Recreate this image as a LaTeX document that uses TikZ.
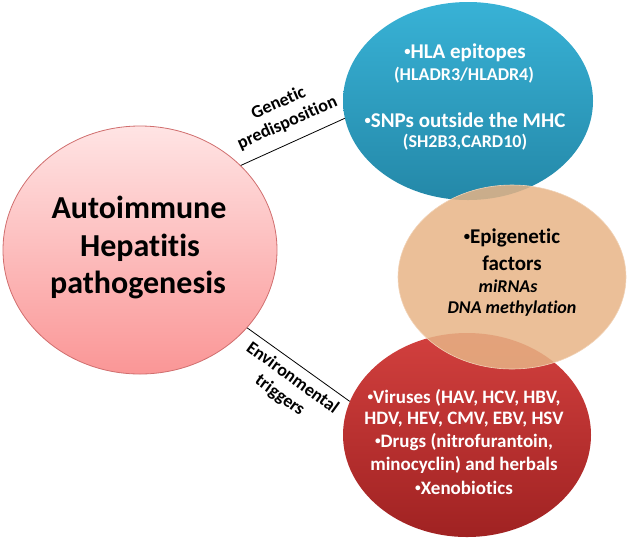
\documentclass[tikz,border=0pt]{standalone}
\usepackage{fontspec}
\setmainfont{Carlito}[Ligatures=NoCommon]
\usetikzlibrary{shapes.geometric}
\definecolor{pinktop}{RGB}{255,228,228}
\definecolor{pinkbot}{RGB}{250,150,150}
\definecolor{pinkedge}{RGB}{208,110,110}
\definecolor{bluetop}{RGB}{56,178,214}
\definecolor{bluebot}{RGB}{36,136,168}
\definecolor{redtop}{RGB}{210,64,62}
\definecolor{redbot}{RGB}{160,34,34}
\definecolor{orangefill}{RGB}{231,180,134}
\tikzset{
  blob/.style={ellipse, inner sep=0pt, draw=none},
  wtext/.style={text=white, font=\bfseries, anchor=base, inner sep=0pt},
  btext/.style={text=black, font=\bfseries, anchor=base, inner sep=0pt},
  conn/.style={draw=black, line width=0.8pt},
  lbl/.style={font=\bfseries\fontsize{18}{21.5}\selectfont, align=center, inner sep=0pt}
}
\newcommand{\fsA}{\fontsize{21}{25}\selectfont}
\newcommand{\fsB}{\fontsize{18}{21}\selectfont}
\newcommand{\fsC}{\fontsize{19}{22}\selectfont}
\newcommand{\fsD}{\fontsize{32}{38}\selectfont}
\newcommand{\bul}{\raisebox{0.13em}{\scalebox{0.6}{•}}}
\begin{document}
\begin{tikzpicture}[x=1pt,y=-1pt]
\useasboundingbox (0,0) rectangle (628,542);
% shapes
\node[blob, draw=pinkedge, line width=0.8pt, top color=pinktop, bottom color=pinkbot,
      minimum width=274pt, minimum height=248pt] (pink) at (140,250) {};
\node[blob, top color=bluetop, bottom color=bluebot,
      minimum width=250pt, minimum height=198pt] (blue) at (468,101) {};
\node[blob, top color=redtop, bottom color=redbot,
      minimum width=248pt, minimum height=204pt] (red) at (467,435) {};
\node[blob, fill=orangefill, fill opacity=0.85, draw=orangefill!60!white, line width=0.6pt,
      minimum width=228pt, minimum height=184pt] (orange) at (512,277) {};
% connectors
\draw[conn] (pink.40) -- (blue.188);
\draw[conn] (pink.-36) -- (red.164);
% connector labels
\node[lbl, rotate=24] (genlbl) at (283,113) {Genetic\\predisposition};
\node[lbl, rotate=-36] (envlbl) at (286,387) {Environmental\\triggers};
% pink text
\node[btext, font=\bfseries\fsD] (t1) at (139,218) {Autoimmune};
\node[btext, font=\bfseries\fsD] (t2) at (140,256) {Hepatitis};
\node[btext, font=\bfseries\fsD] (t3) at (138,293) {pathogenesis};
% blue text
\node[wtext, font=\bfseries\fsA] (b1) at (465,58) {\bul HLA epitopes};
\node[wtext, font=\bfseries\fsB] (b2) at (464,80) {(HLADR3/HLADR4)};
\node[wtext, font=\bfseries\fsA] (b3) at (465,127) {\bul SNPs outside the MHC};
\node[wtext, font=\bfseries\fsB] (b4) at (465,147) {(SH2B3,CARD10)};
% orange text
\node[btext, font=\bfseries\fsA] (o1) at (512,243) {\bul Epigenetic};
\node[btext, font=\bfseries\fsA] (o2) at (512,270) {factors};
\node[btext, font=\bfseries\itshape\fsB] (o3) at (508,292) {miRNAs};
\node[btext, font=\bfseries\itshape\fsB] (o4) at (512,313) {DNA methylation};
% red text
\node[wtext, font=\bfseries\fsC] (r1) at (464,403) {\bul Viruses (HAV, HCV, HBV,};
\node[wtext, font=\bfseries\fsC] (r2) at (464,424) {HDV, HEV, CMV, EBV, HSV};
\node[wtext, font=\bfseries\fsC] (r3) at (464,447) {\bul Drugs (nitrofurantoin,};
\node[wtext, font=\bfseries\fsC] (r4) at (464,470) {minocyclin) and herbals};
\node[wtext, font=\bfseries\fsC] (r5) at (464,494) {\bul Xenobiotics};
\end{tikzpicture}
\end{document}
